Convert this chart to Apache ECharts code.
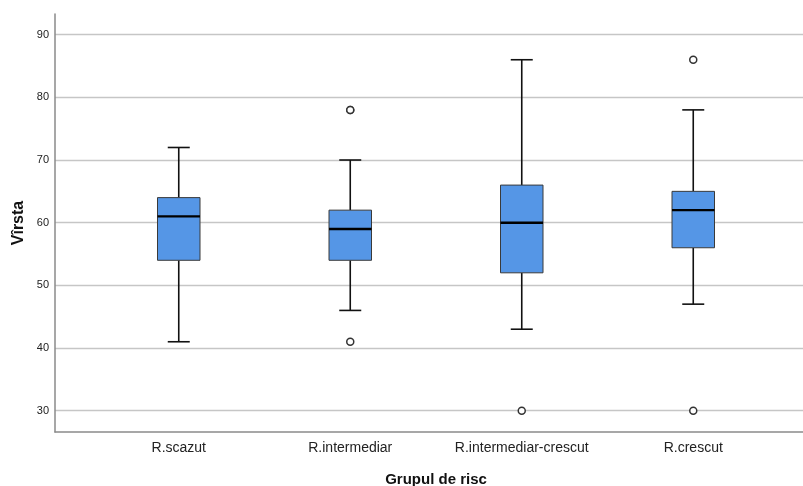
<!DOCTYPE html>
<html>
<head>
<meta charset="utf-8">
<script src="https://cdn.jsdelivr.net/npm/echarts@6/dist/echarts.min.js"></script>
<style>html,body{margin:0;padding:0;background:#fff}#c{width:803px;height:486px}</style>
</head>
<body>
<div id="c"></div>
<script>
const categories = ['R.scazut', 'R.intermediar', 'R.intermediar-crescut', 'R.crescut'];
// [min whisker, Q1, median, Q3, max whisker]
const boxValues = [
  [41, 54, 61, 64, 72],
  [46, 54, 59, 62, 70],
  [43, 52, 60, 66, 86],
  [47, 56, 62, 65, 78]
];
// outliers: [category index, value]
const outliers = [[1, 78], [1, 78], [1, 41], [2, 30], [3, 86], [3, 30]];
const yTickMin = 30, yTickMax = 90, yTickStep = 10;
const yAxisTitle = 'Vîrsta';
const xAxisTitle = 'Grupul de risc';

const chart = echarts.init(document.getElementById('c'), null, {renderer: 'canvas'});
const FONT = '"Liberation Sans", Arial, sans-serif';
const ext = [26.6, 93.3];

const boxData = boxValues.map((v, i) => [i].concat(v));

chart.setOption({
  animation: false,
  backgroundColor: '#fff',
  grid: [
    {left: 55, right: 0, top: 14, bottom: 54, outerBoundsMode: 'none', containLabel: false},
    {left: 55, right: 0, top: 34.7, bottom: 75.3, outerBoundsMode: 'none', containLabel: false},
    {left: 93, right: 24, top: 14, bottom: 54, outerBoundsMode: 'none', containLabel: false}
  ],
  xAxis: [
    {gridIndex: 0, type: 'value', min: 0, max: 1, axisLine: {show: true, onZero: false, lineStyle: {color: '#8a8a8a', width: 1.5}}, axisTick: {show: false}, axisLabel: {show: false}, splitLine: {show: false}},
    {gridIndex: 1, type: 'value', min: 0, max: 1, show: false},
    {gridIndex: 2, type: 'category', data: categories, axisLine: {show: false}, axisTick: {show: false},
      axisLabel: {color: '#222', fontFamily: FONT, fontSize: 14, margin: 9, interval: 0},
      name: xAxisTitle, nameLocation: 'middle', nameGap: 40,
      nameTextStyle: {color: '#111', fontFamily: FONT, fontSize: 15, fontWeight: 'bold'}}
  ],
  yAxis: [
    {gridIndex: 0, type: 'value', min: ext[0], max: ext[1], axisLine: {show: true, lineStyle: {color: '#8a8a8a', width: 1.5}}, axisTick: {show: false}, axisLabel: {show: false}, splitLine: {show: false},
      name: yAxisTitle, nameLocation: 'middle', nameGap: 28,
      nameTextStyle: {color: '#111', fontFamily: FONT, fontSize: 16, fontWeight: 'bold'}},
    {gridIndex: 1, type: 'value', min: yTickMin, max: yTickMax, interval: yTickStep, axisLine: {show: false}, axisTick: {show: false},
      axisLabel: {color: '#222', fontFamily: FONT, fontSize: 11, margin: 6},
      splitLine: {show: true, lineStyle: {color: '#c6c6c6', width: 1.3}}},
    {gridIndex: 2, type: 'value', min: ext[0], max: ext[1], show: false}
  ],
  series: [
    {
      type: 'custom',
      xAxisIndex: 2, yAxisIndex: 2,
      data: boxData,
      encode: {x: 0, y: [1, 2, 3, 4, 5]},
      renderItem: function (params, api) {
        const x = api.value(0);
        const lo = api.coord([x, api.value(1)]);
        const q1 = api.coord([x, api.value(2)]);
        const med = api.coord([x, api.value(3)]);
        const q3 = api.coord([x, api.value(4)]);
        const hi = api.coord([x, api.value(5)]);
        const cx = lo[0];
        const bw = 42.5, cw = 22;
        const wl = {stroke: '#111', lineWidth: 1.6};
        return {
          type: 'group',
          children: [
            {type: 'line', shape: {x1: cx, y1: hi[1], x2: cx, y2: q3[1]}, style: wl},
            {type: 'line', shape: {x1: cx, y1: q1[1], x2: cx, y2: lo[1]}, style: wl},
            {type: 'line', shape: {x1: cx - cw / 2, y1: hi[1], x2: cx + cw / 2, y2: hi[1]}, style: wl},
            {type: 'line', shape: {x1: cx - cw / 2, y1: lo[1], x2: cx + cw / 2, y2: lo[1]}, style: wl},
            {type: 'rect', shape: {x: cx - bw / 2, y: q3[1], width: bw, height: q1[1] - q3[1]}, style: {fill: '#5596e6', stroke: '#3a3a3a', lineWidth: 1}},
            {type: 'line', shape: {x1: cx - bw / 2, y1: med[1], x2: cx + bw / 2, y2: med[1]}, style: {stroke: '#000', lineWidth: 2.4}}
          ]
        };
      }
    },
    {
      type: 'scatter',
      xAxisIndex: 2, yAxisIndex: 2,
      data: outliers,
      symbol: 'circle',
      symbolSize: 7,
      itemStyle: {color: '#fff', borderColor: '#333', borderWidth: 1.5, opacity: 1},
      z: 5
    }
  ]
});
</script>
</body>
</html>
